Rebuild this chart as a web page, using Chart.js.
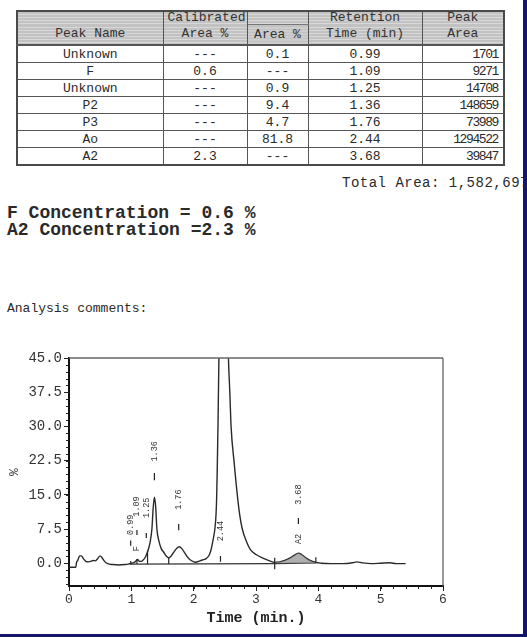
<!DOCTYPE html>
<html><head><meta charset="utf-8">
<script src="https://cdn.jsdelivr.net/npm/chart.js@4.4.1/dist/chart.umd.min.js"></script>
<style>
html,body{margin:0;padding:0;}
body{width:527px;height:637px;position:relative;overflow:hidden;background:#fff;font-family:'Liberation Mono','DejaVu Sans Mono',monospace;color:#2a2a2a;}
#tbl{position:absolute;left:16px;top:10px;border-collapse:collapse;table-layout:fixed;width:487px;border:2px solid #4a4a4a;}
#tbl td{border:1px solid #555;padding:0 4px;font-size:13px;line-height:15px;height:16px;white-space:nowrap;overflow:hidden;text-align:center;}
#tbl tr.h td{background:repeating-linear-gradient(#c2c2c2 0 2px,#d8d8d8 2px 3px);border-top:none;border-bottom:none;color:#333;}
#tbl tr.h1 td{height:12px;line-height:12px;vertical-align:top;}
#tbl tr.h2 td{height:19px;line-height:16px;border-bottom:2px solid #555;}
#tbl td.r{text-align:right;letter-spacing:-1.4px;padding-right:5px;}
.txt{position:absolute;white-space:nowrap;color:#2a2a2a;}
#total{left:342px;top:175px;font-size:14px;letter-spacing:0.5px;}
#c1{left:7px;top:204px;font-size:18px;font-weight:bold;line-height:18px;}
#c2{left:7px;top:221px;font-size:18px;font-weight:bold;line-height:18px;}
#comm{left:7px;top:301px;font-size:13px;}
#cv{position:absolute;left:0;top:330px;}
.blue{position:absolute;background:#15156b;z-index:5;}
</style></head>
<body>
<table id="tbl"></table>
<div class="txt" id="total">Total Area: 1,582,697</div>
<div class="txt" id="c1">F Concentration = 0.6 %</div>
<div class="txt" id="c2">A2 Concentration =2.3 %</div>
<div class="txt" id="comm">Analysis comments:</div>
<canvas id="cv" width="470" height="300"></canvas>
<div class="blue" style="left:523px;top:0;width:4px;height:637px"></div>
<div class="blue" style="left:0;top:634px;width:527px;height:3px"></div>
<script>
// ---- table data ----
const peakNames = ["Unknown","F","Unknown","P2","P3","Ao","A2"];
const calibratedArea = ["---","0.6","---","---","---","---","2.3"];
const areaPct = ["0.1","---","0.9","9.4","4.7","81.8","---"];
const retention = ["0.99","1.09","1.25","1.36","1.76","2.44","3.68"];
const peakArea = ["1701","9271","14708","148659","73989","1294522","39847"];

// ---- chromatogram trace (time min, %) ----
const traceT = [0.00,0.11,0.12,0.14,0.17,0.20,0.23,0.27,0.31,0.35,0.39,0.42,0.46,0.50,0.53,0.57,0.62,0.70,0.80,0.90,0.95,1.00,1.04,1.08,1.10,1.13,1.16,1.19,1.22,1.26,1.30,1.33,1.35,1.37,1.39,1.41,1.44,1.48,1.52,1.56,1.60,1.64,1.69,1.73,1.77,1.81,1.86,1.91,1.96,2.03,2.10,2.16,2.20,2.25,2.28,2.31,2.34,2.36,2.37,2.38,2.39,2.405,2.43,2.48,2.53,2.56,2.58,2.60,2.65,2.70,2.74,2.78,2.84,2.91,3.00,3.13,3.22,3.30,3.38,3.46,3.54,3.61,3.68,3.74,3.80,3.87,3.95,4.05,4.20,4.40,4.55,4.62,4.70,4.85,5.00,5.15,5.25,5.40];
const traceV = [-0.9,-0.9,0.1,0.6,1.6,1.6,1.0,0.4,0.3,0.4,0.6,0.5,1.0,1.6,1.2,0.4,-0.1,-0.3,-0.4,-0.3,-0.2,0.0,0.1,0.6,0.8,0.4,0.4,0.7,1.2,2.5,4.5,7.5,12,14.5,12.5,7.5,5,3.2,2.4,1.6,1.2,1.6,2.6,3.3,3.6,3.2,2.2,1.2,0.6,0.2,0.5,0.8,1.0,1.8,3,5,7.5,11,15,22,30,45,65,75,60,44,37.5,30,22,15,10.5,7.5,5,3,1.9,1.0,0.5,0.2,0.3,0.6,1.1,1.7,2.2,1.8,1.2,0.6,0.2,0.0,-0.1,-0.1,0.1,0.3,0.1,-0.1,0.0,0.1,-0.1,-0.1];

// integration baselines
const baseT = [0.97,3.30,3.96];
const baseV = [-0.2,-0.1,0.05];
// A2 shaded range
const a2Range = [3.30,3.96];
// drop lines
const dropT = [0.99,1.09,1.26,1.60,2.43,3.30,3.96];
const dropLow = [-0.2,-0.2,-0.2,-0.2,0.3,-1.3,0.0];
const dropHigh = [0.5,0.9,2.8,1.3,1.6,1.2,1.3];
// label dashes
const dashT = [0.99,1.09,1.24,1.37,1.76,3.68];
const dashLow = [3.8,6.2,5.5,18.2,7.2,8.6];
const dashHigh = [5.0,7.3,6.6,19.8,8.6,9.9];
// peak labels
const labelText = ["0.99","1.09","1.25","1.36","1.76","2.44","3.68","F","A2"];
const labelT = [0.99,1.09,1.24,1.37,1.76,2.43,3.68,1.09,3.68];
const labelV = [6.2,10.2,9.9,22.3,11.7,4.8,12.8,2.6,4.2];

// axis ticks
const xTicks = [0,1,2,3,4,5,6];
const yTicks = [0,7.5,15,22.5,30,37.5,45];

// ---- build table ----
(function(){
  const t = document.getElementById('tbl');
  let html = '<colgroup><col style="width:146px"><col style="width:84px"><col style="width:61px"><col style="width:114px"><col style="width:82px"></colgroup>';
  html += '<tr class="h h1"><td></td><td>Calibrated</td><td style="border-bottom:1px solid #777"></td><td>Retention</td><td>Peak</td></tr>';
  html += '<tr class="h h2"><td>Peak Name</td><td>Area %</td><td>Area %</td><td>Time (min)</td><td>Area</td></tr>';
  for (let i=0;i<peakNames.length;i++){
    html += '<tr><td>'+peakNames[i]+'</td><td>'+calibratedArea[i]+'</td><td>'+areaPct[i]+'</td><td>'+retention[i]+'</td><td class="r">'+peakArea[i]+'</td></tr>';
  }
  t.innerHTML = html;
})();

// ---- datasets ----
const tracePts = traceT.map((t,i)=>({x:t,y:traceV[i]}));
const a2Pts = tracePts.filter(p=>p.x>=a2Range[0]-1e-9 && p.x<=a2Range[1]+1e-9);
const basePts = baseT.map((t,i)=>({x:t,y:baseV[i]}));
const markPts = [];
dropT.forEach((t,i)=>{markPts.push({x:t,y:dropLow[i]},{x:t,y:dropHigh[i]},{x:t,y:null});});
dashT.forEach((t,i)=>{markPts.push({x:t,y:dashLow[i]},{x:t,y:dashHigh[i]},{x:t,y:null});});

const MONO = "'Liberation Mono','DejaVu Sans Mono',monospace";

const extras = {
  id:'extras',
  afterDatasetsDraw(chart){
    const {ctx, chartArea:a, scales:{x,y}} = chart;
    ctx.save();
    ctx.fillStyle = '#333';
    ctx.font = '8.5px '+MONO;
    ctx.textAlign = 'left';
    ctx.textBaseline = 'middle';
    labelText.forEach((s,i)=>{
      const px = x.getPixelForValue(labelT[i]);
      const py = y.getPixelForValue(labelV[i]);
      ctx.save(); ctx.translate(px,py); ctx.rotate(-Math.PI/2); ctx.fillText(s,0,0); ctx.restore();
    });
    ctx.strokeStyle = '#222'; ctx.lineWidth = 1;
    ctx.beginPath();
    for (let k=Math.ceil(x.min/0.2); k<=Math.floor(x.max/0.2+1e-9); k++){
      const px = Math.round(x.getPixelForValue(k*0.2))+0.5;
      ctx.moveTo(px,a.bottom); ctx.lineTo(px,a.bottom+3);
    }
    for (let k=Math.ceil(y.min/1.5); k<=Math.floor(y.max/1.5+1e-9); k++){
      const py = Math.round(y.getPixelForValue(k*1.5))+0.5;
      ctx.moveTo(a.left,py); ctx.lineTo(a.left-3,py);
    }
    ctx.stroke();
    ctx.strokeStyle = '#666'; ctx.lineWidth = 1.6;
    ctx.beginPath(); ctx.moveTo(a.left,a.top); ctx.lineTo(a.right,a.top); ctx.stroke();
    ctx.strokeStyle = '#555'; ctx.lineWidth = 1.2;
    ctx.beginPath(); ctx.moveTo(a.right,a.top); ctx.lineTo(a.right,a.bottom); ctx.stroke();
    ctx.restore();
  }
};

new Chart(document.getElementById('cv'), {
  type:'line',
  data:{datasets:[
    {data:a2Pts, fill:'origin', backgroundColor:'rgba(110,110,110,0.55)', borderWidth:0, pointRadius:0, cubicInterpolationMode:'monotone'},
    {data:tracePts, borderColor:'#2a2a2a', borderWidth:1.4, pointRadius:0, fill:false, cubicInterpolationMode:'monotone'},
    {data:basePts, borderColor:'#333', borderWidth:1.1, pointRadius:0, fill:false, tension:0},
    {data:markPts, borderColor:'#222', borderWidth:1.2, pointRadius:0, fill:false, tension:0, spanGaps:false}
  ]},
  options:{
    responsive:false, animation:false, parsing:true,
    layout:{padding:{left:0,top:28,right:27,bottom:0}},
    plugins:{legend:{display:false}, tooltip:{enabled:false}},
    scales:{
      x:{type:'linear', min:0, max:6,
        afterBuildTicks:s=>{s.ticks = xTicks.map(v=>({value:v}));},
        afterFit:s=>{s.height = 44;},
        ticks:{font:{family:MONO,size:13}, color:'#333', padding:1, maxRotation:0, callback:v=>String(v)},
        grid:{drawOnChartArea:false, drawTicks:true, tickLength:5, color:'#222', lineWidth:1},
        border:{display:true, color:'#111', width:2},
        title:{display:true, text:'Time (min.)', font:{family:MONO,size:15,weight:'bold'}, color:'#222', padding:{top:0,bottom:3}}
      },
      y:{type:'linear', min:-5, max:45,
        afterBuildTicks:s=>{s.ticks = yTicks.map(v=>({value:v}));},
        afterFit:s=>{s.width = 69;},
        ticks:{font:{family:MONO,size:14}, color:'#333', padding:2, callback:v=>Number(v).toFixed(1)},
        grid:{drawOnChartArea:false, drawTicks:true, tickLength:5, color:'#222', lineWidth:1},
        border:{display:true, color:'#111', width:2},
        title:{display:true, text:'%', font:{family:MONO,size:13}, color:'#333', padding:{top:7,bottom:0}}
      }
    }
  },
  plugins:[extras]
});
</script>
</body></html>
